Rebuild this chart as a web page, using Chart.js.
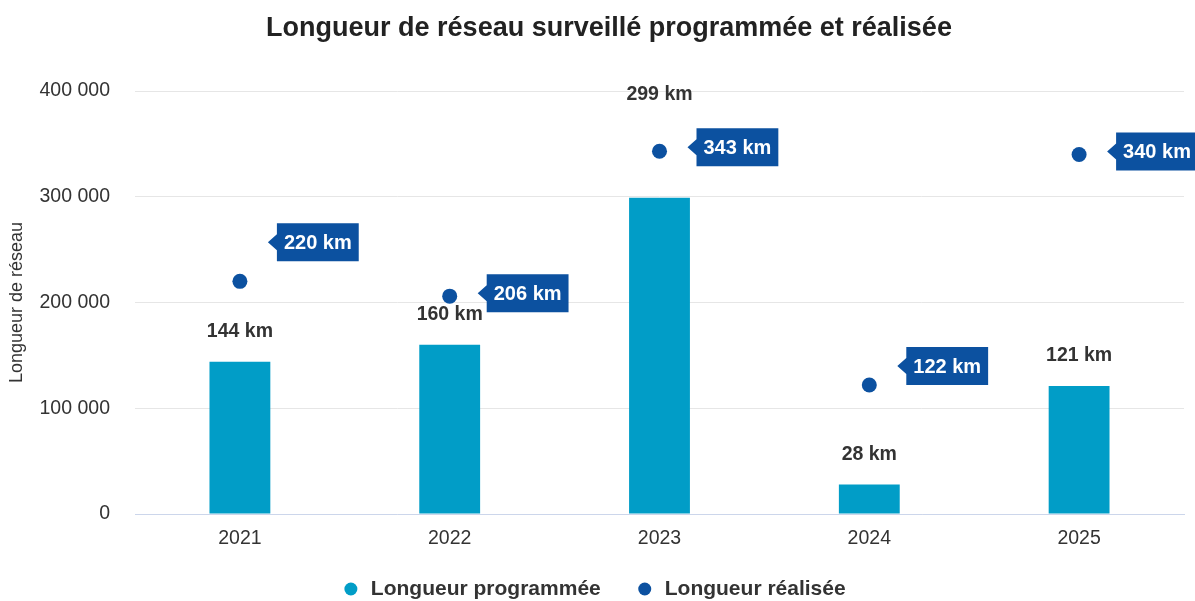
<!DOCTYPE html>
<html lang="fr">
<head>
<meta charset="utf-8">
<script src="https://cdn.jsdelivr.net/npm/chart.js@4/dist/chart.umd.min.js"></script>
<style>
  html, body { margin: 0; padding: 0; background: #fff; }
  #wrap { width: 1195px; height: 601px; }
</style>
</head>
<body>
<div id="wrap"><canvas id="myChart" width="1195" height="601"></canvas></div>
<script>
// Données (en mètres) — les étiquettes affichent des km
const annees = ['2021', '2022', '2023', '2024', '2025'];
const longueurProgrammee = [144000, 160000, 299000, 28000, 121000];
const longueurRealisee = [220000, 206000, 343000, 122000, 340000];
const graduationsY = [0, 100000, 200000, 300000, 400000];

const titre = 'Longueur de réseau surveillé programmée et réalisée';
const bleuClair = '#019dc7';
const bleuFonce = '#0c51a0';
const police = "'Liberation Sans', Arial, sans-serif";

// espace comme séparateur de milliers : 400 000
function formatNombre(v) {
    return String(v).replace(/\B(?=(\d{3})+(?!\d))/g, ' ');
}
function enKm(v) {
    return Math.round(v / 1000) + ' km';
}

// Titre, étiquettes, bulles et légende dessinés à la main
const etiquettesPlugin = {
    id: 'etiquettes',
    afterDatasetsDraw(chart, args, opts) {
        const ctx = chart.ctx;
        const barres = chart.getDatasetMeta(0).data;
        const points = chart.getDatasetMeta(1).data;
        ctx.save();
        ctx.textAlign = 'center';
        ctx.textBaseline = 'middle';

        // titre (légèrement décalé à droite)
        ctx.font = 'bold 27px ' + police;
        ctx.fillStyle = '#222222';
        ctx.fillText(titre, 609, 29);

        // valeurs des barres
        ctx.font = 'bold 19.5px ' + police;
        barres.forEach((b, i) => {
            let y = b.y - 30;
            if (opts.auDessusDuPoint.includes(i)) y = points[i].y - 57;
            ctx.fillStyle = '#333333';
            ctx.fillText(enKm(longueurProgrammee[i]), b.x, y);
        });

        // bulles à droite des points
        ctx.font = 'bold 20px ' + police;
        points.forEach((p, i) => {
            const texte = enKm(longueurRealisee[i]);
            const w = ctx.measureText(texte).width + 14;
            const h = 38;
            const cy = p.y + opts.decalageBulle[i];
            const x0 = p.x + 37;
            ctx.fillStyle = bleuFonce;
            ctx.beginPath();
            ctx.moveTo(x0 - 9, cy);
            ctx.lineTo(x0, cy - 8);
            ctx.lineTo(x0, cy - h / 2);
            ctx.lineTo(x0 + w, cy - h / 2);
            ctx.lineTo(x0 + w, cy + h / 2);
            ctx.lineTo(x0, cy + h / 2);
            ctx.lineTo(x0, cy + 8);
            ctx.closePath();
            ctx.fill();
            ctx.fillStyle = '#ffffff';
            ctx.fillText(texte, x0 + w / 2, cy + 1);
        });

        // légende centrée en bas
        ctx.font = 'bold 21px ' + police;
        ctx.textAlign = 'left';
        const items = chart.data.datasets.map(ds => ({
            texte: ds.label,
            couleur: ds.pointBackgroundColor || ds.backgroundColor
        }));
        const largeurs = items.map(it => ctx.measureText(it.texte).width);
        const total = largeurs.reduce((s, w) => s + 6.5 + 20 + w, 0) + 44 * (items.length - 1) - 6.5 * (items.length - 1);
        let x = chart.width / 2 - total / 2 + 4;
        const yLeg = 589;
        items.forEach((it, i) => {
            ctx.fillStyle = it.couleur;
            ctx.beginPath();
            ctx.arc(x, yLeg, 6.5, 0, Math.PI * 2);
            ctx.fill();
            ctx.fillStyle = '#333333';
            ctx.fillText(it.texte, x + 20, yLeg);
            x += 20 + largeurs[i] + 44;
        });
        ctx.restore();
    }
};

const ctx = document.getElementById('myChart').getContext('2d');
new Chart(ctx, {
    type: 'bar',
    data: {
        labels: annees,
        datasets: [
            {
                label: 'Longueur programmée',
                data: longueurProgrammee,
                backgroundColor: bleuClair,
                categoryPercentage: 1,
                barPercentage: 0.29,
                order: 2
            },
            {
                type: 'line',
                label: 'Longueur réalisée',
                data: longueurRealisee,
                showLine: false,
                pointRadius: 7.5,
                pointHoverRadius: 7.5,
                pointBackgroundColor: bleuFonce,
                pointBorderWidth: 0,
                borderColor: bleuFonce,
                backgroundColor: bleuFonce,
                order: 1
            }
        ]
    },
    options: {
        responsive: false,
        animation: false,
        layout: { padding: { left: 6, right: 11, top: 91, bottom: 37.6 } },
        plugins: {
            title: { display: false },
            legend: { display: false },
            tooltip: { enabled: false },
            etiquettes: {
                auDessusDuPoint: [2],
                decalageBulle: [-39, -3, -4, -19, -3]
            }
        },
        scales: {
            x: {
                grid: { display: false, drawTicks: false },
                border: { color: '#ccd6eb', width: 1 },
                ticks: {
                    color: '#333333',
                    padding: 13,
                    font: { size: 19.5, family: police }
                }
            },
            y: {
                min: 0,
                max: 400000,
                afterBuildTicks(axis) {
                    axis.ticks = graduationsY.map(v => ({ value: v }));
                },
                afterFit(axis) {
                    axis.width = 129;
                },
                grid: { color: '#e6e6e6', drawTicks: false },
                border: { display: false },
                ticks: {
                    color: '#333333',
                    padding: 25,
                    font: { size: 19.5, family: police },
                    callback: v => formatNombre(v)
                },
                title: {
                    display: true,
                    text: 'Longueur de réseau',
                    color: '#333333',
                    font: { size: 18, family: police },
                    padding: { top: 0, bottom: 0 }
                }
            }
        }
    },
    plugins: [etiquettesPlugin]
});
</script>
</body>
</html>
